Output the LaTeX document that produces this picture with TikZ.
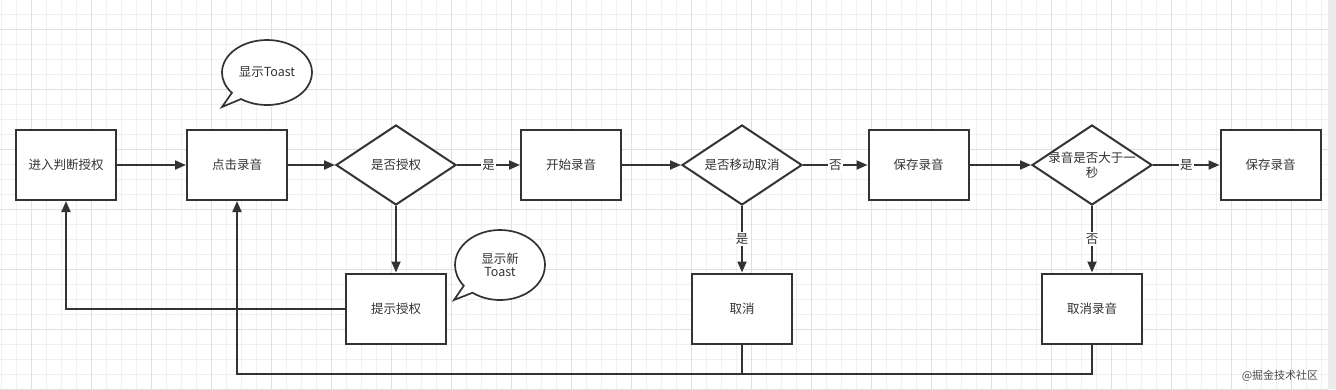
\documentclass[tikz,border=0pt]{standalone}
\usepackage{fontspec}
\newfontfamily\cn{Noto Sans CJK SC}
\usetikzlibrary{shapes.geometric,shapes.callouts,arrows.meta}
\definecolor{lc}{HTML}{333333}
\definecolor{tc}{HTML}{333333}
\definecolor{gminor}{HTML}{F0F0F0}
\definecolor{gmajor}{HTML}{E0E0E0}
\tikzset{
  box/.style={draw=lc, line width=2pt, fill=white, minimum width=100pt, minimum height=70pt, inner sep=0pt, font=\cn\fontsize{12.5}{15}\selectfont, text=tc},
  dia/.style={diamond, draw=lc, line width=2pt, fill=white, minimum width=120pt, minimum height=80pt, inner sep=0pt, font=\cn\fontsize{12.5}{15}\selectfont, text=tc},
  bubble/.style={ellipse callout, draw=lc, line width=1.7pt, fill=white, inner sep=0pt, font=\cn\fontsize{12.5}{15}\selectfont, text=tc, align=center, callout pointer arc=16},
  arr/.style={draw=lc, line width=2pt, -{Triangle[length=11pt,width=9pt]}},
  ln/.style={draw=lc, line width=2pt},
  elab/.style={fill=white, inner sep=1.5pt, font=\cn\fontsize{12.5}{15}\selectfont, text=tc}
}
\begin{document}
\begin{tikzpicture}[x=1pt,y=-1pt]
\useasboundingbox (0,0) rectangle (1336,389);
\fill[white] (0,0) rectangle (1336,389);
% grid
\foreach \i in {0,...,89} {\pgfmathsetmacro\xx{1+15*\i}\draw[gminor, line width=0.8pt] (\xx,0) -- (\xx,389);}
\foreach \i in {0,...,26} {\pgfmathsetmacro\yy{-1+15*\i}\draw[gminor, line width=0.8pt] (0,\yy) -- (1328,\yy);}
\foreach \i in {0,...,22} {\pgfmathsetmacro\xx{31+60*\i}\draw[gmajor, line width=1pt] (\xx,0) -- (\xx,389);}
\foreach \i in {0,...,6} {\pgfmathsetmacro\yy{29+60*\i}\draw[gmajor, line width=1pt] (0,\yy) -- (1328,\yy);}
\fill[gmajor!60] (1328,0) rectangle (1336,389);
% nodes
\node[box] (enter) at (66,165) {进入判断授权};
\node[box] (click) at (237,165) {点击录音};
\node[dia, label={center:{\cn\fontsize{12.5}{15}\selectfont\color{tc}是否授权}}] (auth) at (396,165) {};
\node[box] (start) at (571,165) {开始录音};
\node[dia, label={center:{\cn\fontsize{12.5}{15}\selectfont\color{tc}是否移动取消}}] (move) at (742,165) {};
\node[box] (save) at (918.5,165) {保存录音};
\node[dia, label={[align=center, font=\cn\fontsize{12.5}{15}\selectfont, text=tc]center:{录音是否大于一\\秒}}] (sec) at (1092,165) {};
\node[box] (save2) at (1270.5,165) {保存录音};
\node[box] (prompt) at (396,308.5) {提示授权};
\node[box] (cancel) at (742,308.5) {取消};
\node[box] (cancelrec) at (1092,308.5) {取消录音};
\node[bubble, minimum width=90pt, minimum height=65pt, callout absolute pointer={(222,107)}] (toast1) at (267,72.5) {显示Toast};
\node[bubble, minimum width=90pt, minimum height=70pt, callout absolute pointer={(454,300)}] (toast2) at (500,265) {显示新\\[-2pt]Toast};
% connectors
\draw[arr] (enter) -- (click);
\draw[arr] (click) -- (auth);
\draw[arr] (auth) -- node[elab, pos=0.5] {是} (start);
\draw[arr] (start) -- (move);
\draw[arr] (move) -- node[elab, pos=0.5] {否} (save);
\draw[arr] (save) -- (sec);
\draw[arr] (sec) -- node[elab, pos=0.5] {是} (save2);
\draw[arr] (auth) -- (prompt);
\draw[arr] (move) -- node[elab, pos=0.5] {是} (cancel);
\draw[arr] (sec) -- node[elab, pos=0.5] {否} (cancelrec);
\draw[arr] (prompt.west) -| (enter.south);
\coordinate (j) at (742,374);
\draw[arr] (cancel.south) -- (j) -| (click.south);
\draw[ln] (cancelrec.south) |- (j);
% watermark
\node[font=\cn\fontsize{11}{13}\selectfont, text=black!70, inner sep=0pt] (wm) at (1280,376) {@掘金技术社区};
\end{tikzpicture}
\end{document}
